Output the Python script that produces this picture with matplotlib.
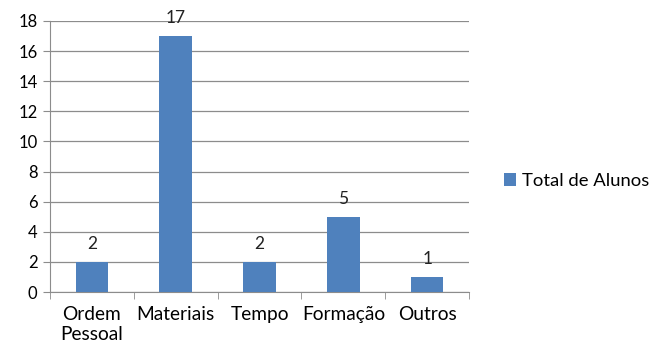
import matplotlib.pyplot as plt
import numpy as np

categorias = ["Ordem\nPessoal", "Materiais", "Tempo", "Formação", "Outros"]
alunos = [2, 17, 2, 5, 1]
serie = "Total de Alunos"

plt.rcParams["font.family"] = ["Lato", "DejaVu Sans"]
plt.rcParams["font.size"] = 12

fig = plt.figure(figsize=(6.49, 3.47), dpi=100)
ax = fig.add_axes([0.077, 0.1585, 0.6457, 0.781])

x = np.arange(len(categorias))
barras = ax.bar(x, alunos, width=0.39, color="#4F81BD", label=serie, zorder=3)
ax.bar_label(barras, labels=[str(v) for v in alunos], padding=7, fontsize=12.5,
             color="#222222")

ax.set_xlim(-0.5, len(categorias) - 0.5)
ax.set_ylim(0, 18)
ax.set_yticks(range(0, 19, 2))
ax.yaxis.grid(True, color="#8C8C8C", linewidth=0.9, zorder=0)
ax.set_axisbelow(True)

ax.set_xticks(x)
ax.set_xticklabels(categorias, fontsize=13.8, linespacing=1.25)
ax.set_xticks(np.arange(-0.5, len(categorias)), minor=True)
ax.tick_params(axis="x", which="major", length=0, pad=10)
ax.tick_params(axis="x", which="minor", length=5, color="#8C8C8C")
ax.tick_params(axis="y", length=5, color="#8C8C8C", pad=4)

for lado in ["top", "right"]:
    ax.spines[lado].set_visible(False)
for lado in ["left", "bottom"]:
    ax.spines[lado].set_color("#8C8C8C")

fig.legend(loc="center left", bbox_to_anchor=(0.751, 0.478), frameon=False,
           handlelength=0.65, handleheight=0.65, handletextpad=0.3, fontsize=13.3)

fig.savefig("out.png", dpi=100)
